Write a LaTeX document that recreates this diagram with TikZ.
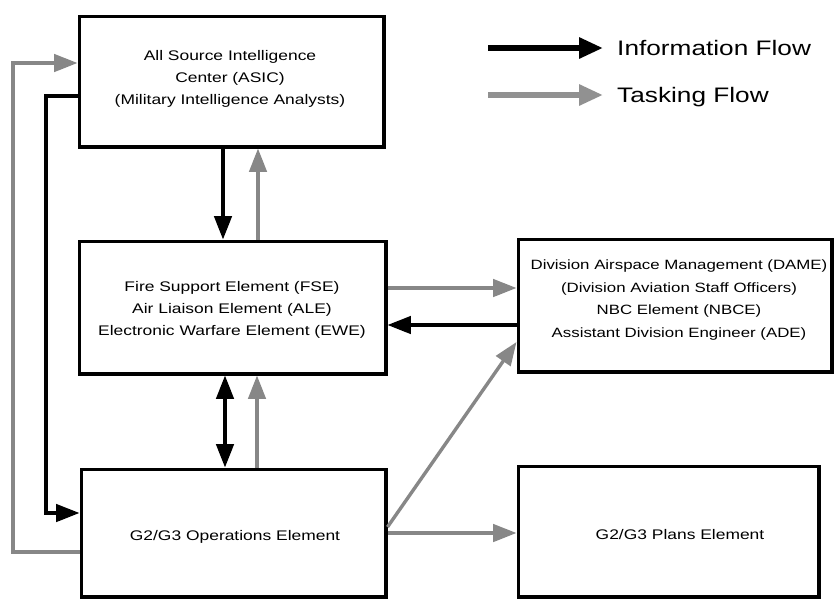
\documentclass[tikz,border=0pt]{standalone}
\usepackage{fontspec}
\setmainfont{Liberation Sans}[FakeStretch=1.25]
\usetikzlibrary{arrows.meta}
\definecolor{tgray}{RGB}{135,135,135}
\definecolor{lgray}{RGB}{145,145,145}
\newcommand{\boxfont}{\fontsize{11.9pt}{19.1pt}\selectfont}
\newcommand{\damefont}{\fontsize{11.5pt}{19.1pt}\selectfont}
\newcommand{\legfont}{\fontsize{17.9pt}{20pt}\selectfont}
\tikzset{
  box/.style={draw, line width=3.4pt, inner sep=0pt},
  txt/.style={align=center, font=\boxfont, inner sep=0pt},
  info/.style={line width=2.9pt, line join=miter, -{Triangle[length=0.7cm,width=0.52cm]}},
  task/.style={info, draw=tgray},
  infotwo/.style={line width=2.9pt, {Triangle[length=0.7cm,width=0.52cm]}-{Triangle[length=0.7cm,width=0.52cm]}},
  leginfo/.style={line width=5pt, -{Triangle[length=0.72cm,width=0.6cm]}},
  legtask/.style={leginfo, draw=lgray},
  legtxt/.style={font=\legfont, anchor=base west, inner sep=0pt}
}
\begin{document}
\begin{tikzpicture}[x=0.03cm, y=-0.03cm]
\useasboundingbox[fill=white] (0,0) rectangle (835,602);

% boxes
\node[box, minimum width=9.12cm, minimum height=3.9cm] (asic) at (231.5,81.5) {};
\node[box, minimum width=9.18cm, minimum height=3.96cm] (fse) at (232.5,307.5) {};
\node[box, minimum width=9.12cm, minimum height=3.825cm] (ops) at (233.5,533.25) {};
\node[box, minimum width=9.405cm, minimum height=3.96cm] (dame) at (675.25,305.5) {};
\node[box, minimum width=9cm, minimum height=3.915cm] (plans) at (668.5,531.75) {};

% texts
\node[txt] (asicT) at (230,79) {All Source Intelligence\\Center (ASIC)\\(Military Intelligence Analysts)};
\node[txt] (fseT) at (232,310) {Fire Support Element (FSE)\\Air Liaison Element (ALE)\\Electronic Warfare Element (EWE)};
\node[txt, font=\damefont] (dameT) at (679,300) {Division Airspace Management (DAME)\\(Division Aviation Staff Officers)\\NBC Element (NBCE)\\Assistant Division Engineer (ADE)};
\node[txt] (opsT) at (235,537) {G2/G3 Operations Element};
\node[txt] (plansT) at (680,535) {G2/G3 Plans Element};

% legend
\node[legtxt] (infoT) at (617,55) {Information Flow};
\node[legtxt] (taskT) at (617,102) {Tasking Flow};
\coordinate (la) at (488,48);
\coordinate (lb) at (488,95);
\coordinate (lat) at (603,48);
\coordinate (lbt) at (603,95);
\draw[leginfo] (la) -- (lat);
\draw[legtask] (lb) -- (lbt);

% outer loops
\coordinate (g1) at (13,552);
\coordinate (g2) at (13,63);
\draw[task] (ops.west |- g1) -- (g1) -- (g2) -- (asic.west |- g2);
\coordinate (b1) at (46,96);
\coordinate (b2) at (46,513);
\draw[info] (asic.west |- b1) -- (b1) -- (b2) -- (ops.west |- b2);

% verticals
\coordinate (v1) at (223,0);
\coordinate (v2) at (258,0);
\coordinate (v3) at (225,0);
\coordinate (v4) at (257,0);
\draw[info] (asic.south -| v1) -- (fse.north -| v1);
\draw[task] (fse.north -| v2) -- (asic.south -| v2);
\draw[infotwo] (fse.south -| v3) -- (ops.north -| v3);
\draw[task] (ops.north -| v4) -- (fse.south -| v4);

% horizontals
\coordinate (h1) at (0,288);
\coordinate (h2) at (0,325);
\coordinate (h3) at (0,533);
\draw[task] (fse.east |- h1) -- (dame.west |- h1);
\draw[info] (dame.west |- h2) -- (fse.east |- h2);
\draw[task] (ops.east |- h3) -- (plans.west |- h3);

% diagonal
\coordinate (d1) at (0,527);
\coordinate (d2) at (0,342);
\draw[task] (ops.east |- d1) -- (dame.west |- d2);
\end{tikzpicture}
\end{document}
